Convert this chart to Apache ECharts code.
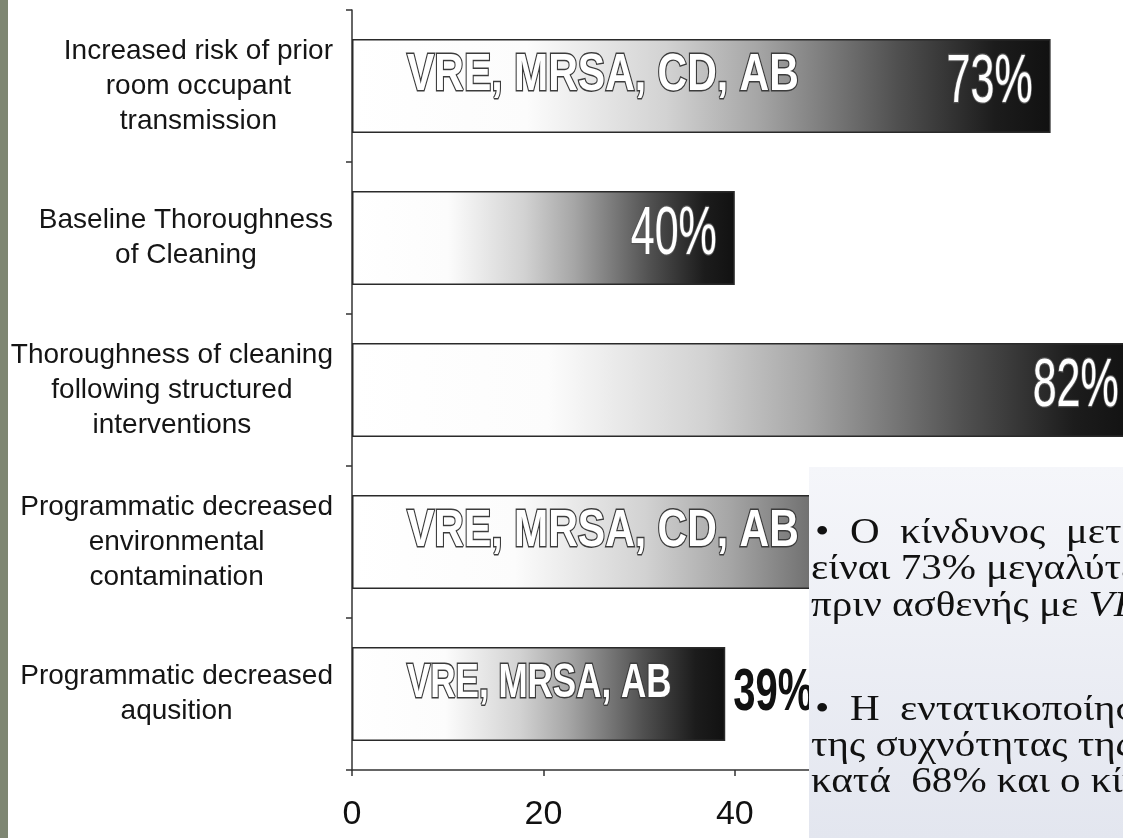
<!DOCTYPE html>
<html>
<head>
<meta charset="utf-8">
<script src="https://cdn.jsdelivr.net/npm/echarts@6/dist/echarts.min.js"></script>
<style>
  html, body { margin: 0; padding: 0; background: #fff; }
  #main { width: 1123px; height: 838px; }
</style>
</head>
<body>
<div id="main"></div>
<script>
// categories, top to bottom
var categories = [
    'Increased risk of prior\nroom occupant\ntransmission',
    'Baseline Thoroughness\nof Cleaning',
    'Thoroughness of cleaning\nfollowing structured\ninterventions',
    'Programmatic decreased\nenvironmental\ncontamination',
    'Programmatic decreased\naqusition'
];
var values = [73, 40, 82, 68, 39];
var pctLabels = ['73%', '40%', '82%', '68%', '39%'];
var organisms = ['VRE, MRSA, CD, AB', '', '', 'VRE, MRSA, CD, AB', 'VRE, MRSA, AB'];
var xTicks = [0, 20, 40, 60, 80, 100];

// greek note lines (box on the lower right, cut by the slide edge)
var noteLines = [
    '•  Ο  κίνδυνος  μετάδοσης  είναι',
    'είναι 73% μεγαλύτερος όταν ο',
    'πριν ασθενής με {i|VRE, MRSA}',
    '•  Η  εντατικοποίηση  της',
    'της συχνότητας της καθαριότητας',
    'κατά  68% και ο κίνδυνος'
];
var noteY = [544, 580, 617, 721, 757, 793];
var noteX = [815, 811, 811, 815, 811, 811];

var chart = echarts.init(document.getElementById('main'));

var barGradient = new echarts.graphic.LinearGradient(0, 0, 1, 0, [
    { offset: 0, color: '#ffffff' },
    { offset: 0.25, color: '#fcfcfc' },
    { offset: 0.45, color: '#d2d2d2' },
    { offset: 0.58, color: '#a6a6a6' },
    { offset: 0.78, color: '#505050' },
    { offset: 0.92, color: '#1c1c1c' },
    { offset: 1, color: '#111111' }
]);

var graphics = [
    { type: 'rect', z: 100, shape: { x: 0, y: 0, width: 8, height: 838 }, style: { fill: '#7e8672' } },
    {
        type: 'rect', z: 100,
        shape: { x: 809, y: 467, width: 314, height: 371 },
        style: {
            fill: new echarts.graphic.LinearGradient(0, 0, 0, 1, [
                { offset: 0, color: '#f5f6fa' },
                { offset: 1, color: '#e3e6ef' }
            ])
        }
    }
];
noteLines.forEach(function (t, k) {
    graphics.push({
        type: 'text', z: 101,
        x: noteX[k], y: noteY[k] + 8,
        scaleX: 1.14,
        style: {
            text: t,
            font: '36px "Liberation Serif"',
            fill: '#111',
            verticalAlign: 'bottom',
            rich: { i: { font: 'italic 36px "Liberation Serif"', fill: '#111' } }
        }
    });
});

var option = {
    backgroundColor: '#ffffff',
    animation: false,
    grid: { left: 352, top: 10, bottom: 68, right: -186, outerBoundsMode: 'none' },
    xAxis: {
        type: 'value',
        min: xTicks[0],
        max: xTicks[xTicks.length - 1],
        interval: 20,
        axisLine: { show: true, lineStyle: { color: '#333', width: 1.5 } },
        axisTick: { show: true, length: 6, lineStyle: { color: '#333', width: 1.5 } },
        splitLine: { show: false },
        axisLabel: { fontSize: 34, color: '#111', margin: 28, fontFamily: '"Liberation Sans", Arial, sans-serif' }
    },
    yAxis: {
        type: 'category',
        inverse: true,
        data: categories,
        axisLine: { show: true, lineStyle: { color: '#333', width: 1.5 } },
        axisTick: { show: true, length: 6, lineStyle: { color: '#333', width: 1.5 } },
        axisLabel: {
            align: 'right',
            margin: 19,
            formatter: function (val) {
                return val.split('\n').map(function (l) { return '{c|' + l + '}'; }).join('\n');
            },
            rich: {
                c: {
                    align: 'center',
                    fontSize: 28,
                    lineHeight: 35,
                    color: '#151515',
                    fontFamily: '"Liberation Sans", Arial, sans-serif'
                }
            }
        }
    },
    series: [
        {
            type: 'bar',
            data: values,
            barWidth: '62%',
            itemStyle: { color: barGradient, borderColor: '#2a2a2a', borderWidth: 1.5 }
        },
        {
            type: 'custom',
            data: values.map(function (v, i) { return [v, i]; }),
            encode: { x: 0, y: 1 },
            z: 5,
            renderItem: function (params, api) {
                var i = params.dataIndex;
                var start = api.coord([0, i]);
                var end = api.coord([api.value(0), i]);
                var kids = [];
                if (organisms[i]) {
                    var big = organisms[i].length > 14;
                    kids.push({
                        type: 'text',
                        x: start[0] + 55,
                        y: end[1] - 10,
                        scaleY: big ? 1.26 : 1.36,
                        style: {
                            text: organisms[i],
                            font: 'bold ' + (big ? 41 : 35) + 'px "Liberation Sans"',
                            fill: '#ffffff',
                            stroke: '#3c3c3c',
                            lineWidth: 2.2,
                            align: 'left',
                            verticalAlign: 'middle'
                        }
                    });
                }
                var outside = i === 4;
                kids.push({
                    type: 'text',
                    x: outside ? end[0] + 8 : end[0] - 18,
                    y: end[1] - (outside ? 1 : 3),
                    scaleY: outside ? 1.5 : 1.6,
                    style: {
                        text: pctLabels[i],
                        font: (outside ? 'bold 40px' : '43px') + ' "Liberation Sans"',
                        fill: outside ? '#111111' : '#ffffff',
                        stroke: outside ? null : '#555555',
                        lineWidth: outside ? 0 : 1.5,
                        align: outside ? 'left' : 'right',
                        verticalAlign: 'middle'
                    }
                });
                return { type: 'group', children: kids };
            }
        }
    ],
    graphic: graphics
};

chart.setOption(option);
</script>
</body>
</html>
